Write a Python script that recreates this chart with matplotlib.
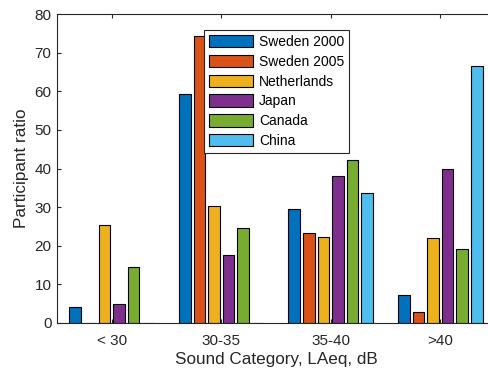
"""Grouped bar chart of participant ratio by sound category."""

import numpy as np
from matplotlib import pyplot

categories = ["< 30", "30-35", "35-40", ">40"]
series_names = ["Sweden 2000", "Sweden 2005", "Netherlands", "Japan", "Canada", "China"]
sweden_2000 = [4.2, 59.2, 29.4, 7.2]
sweden_2005 = [0.0, 74.2, 23.2, 2.8]
netherlands = [25.5, 30.2, 22.3, 22.1]
japan = [4.8, 17.6, 38.0, 39.9]
canada = [14.6, 24.7, 42.1, 19.1]
china = [0.0, 0.0, 33.6, 66.6]
colors = ["#0072BD", "#D95319", "#EDB120", "#7E2F8E", "#77AC30", "#4DBEEE"]

TEXT = "#262626"

pyplot.rcParams["font.family"] = ["Liberation Sans", "DejaVu Sans"]

fig = pyplot.figure(figsize=(4.88, 3.76), dpi=100)
# right edge of the axes lies just past the figure, as in the original
ax = fig.add_axes([57 / 488, 53 / 376, 438 / 488, 309 / 376])

series = [sweden_2000, sweden_2005, netherlands, japan, canada, china]
x = np.arange(1, len(categories) + 1)
slot = 0.8 / len(series)
for i, (name, values, color) in enumerate(zip(series_names, series, colors)):
    offset = (i - (len(series) - 1) / 2) * slot
    ax.bar(x + offset, values, width=slot * 0.8, color=color,
           edgecolor="black", linewidth=0.8, label=name)

ax.set_xlim(0.5, 4.5)
ax.set_ylim(0, 80)
ax.set_yticks(range(0, 81, 10))
ax.set_xticks(x)
ax.set_xticklabels(categories)
ax.tick_params(direction="in", length=3, top=True, right=True,
               labelsize=11, colors=TEXT)
ax.tick_params(axis="x", pad=8)
ax.tick_params(axis="y", pad=4)
for spine in ax.spines.values():
    spine.set_color(TEXT)
    spine.set_linewidth(0.8)
ax.set_xlabel("Sound Category, LAeq, dB", fontsize=12.3, color=TEXT, labelpad=3)
ax.set_ylabel("Participant ratio", fontsize=12.3, color=TEXT, labelpad=4)

leg = ax.legend(loc="upper left", bbox_to_anchor=(204 / 488, 1 - 30 / 376),
                bbox_transform=fig.transFigure, borderaxespad=0,
                fontsize=10, handlelength=3.2, handleheight=1.0,
                labelspacing=0.42, handletextpad=0.4, borderpad=0.35,
                fancybox=False, framealpha=1)
leg.get_frame().set_edgecolor(TEXT)
leg.get_frame().set_linewidth(0.8)

fig.savefig("out.png", dpi=100)
